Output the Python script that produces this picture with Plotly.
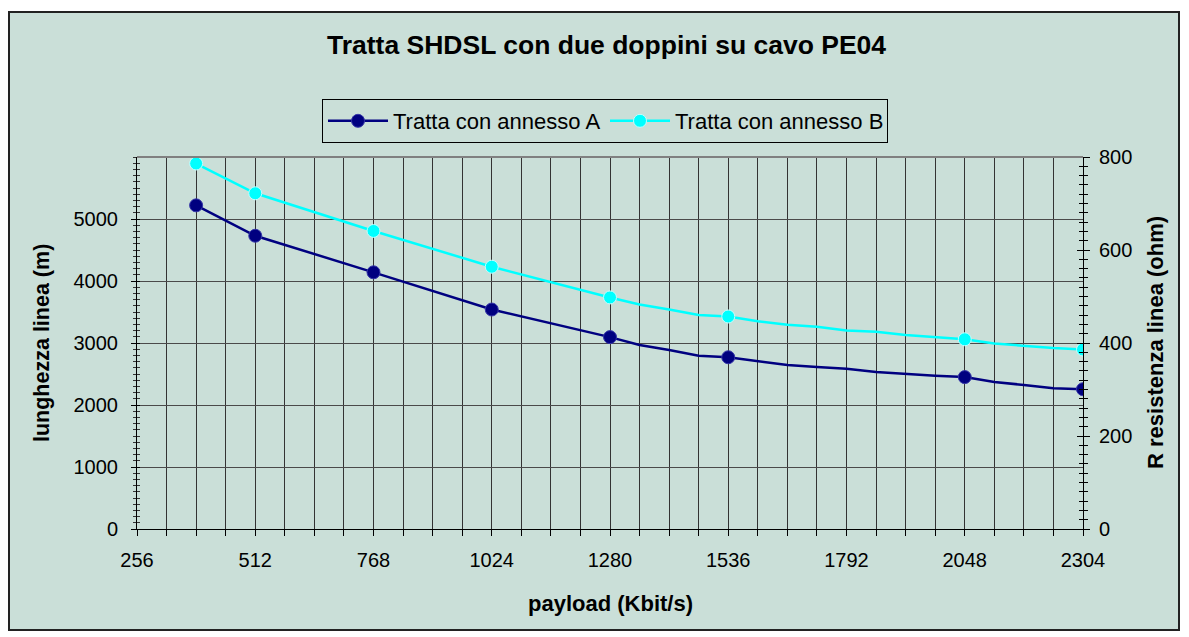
import plotly.graph_objects as go

# ---- data ----
x_markers = [384, 512, 768, 1024, 1280, 1536, 2048, 2304]
len_A_markers = [5220, 4730, 4140, 3540, 3095, 2770, 2450, 2255]
res_B_markers = [786, 722, 641, 564, 498, 457, 408, 386]

x_line = [384, 512, 768, 1024, 1280, 1344, 1408, 1472, 1536, 1600, 1664, 1728,
          1792, 1856, 1920, 1984, 2048, 2112, 2176, 2240, 2304]
len_A_line = [5220, 4730, 4140, 3540, 3095, 2968, 2887, 2795, 2770, 2710, 2645, 2613,
              2585, 2532, 2500, 2473, 2450, 2371, 2323, 2272, 2255]
res_B_line = [786, 722, 641, 564, 498, 483, 472, 460, 457, 447, 439, 435,
              427, 424, 417, 412, 408, 399, 394, 389, 386]

x_ticks = [256, 512, 768, 1024, 1280, 1536, 1792, 2048, 2304]
y_left_ticks = [0, 1000, 2000, 3000, 4000, 5000]
y_right_ticks = [0, 200, 400, 600, 800]

title_text = "Tratta SHDSL con due doppini su cavo PE04"
name_A = "Tratta con annesso A"
name_B = "Tratta con annesso B"

NAVY = "#000080"
CYAN = "#00FFFF"
BG = "#cadfd8"
GRID = "#333333"
FONT = "Liberation Sans, Arial, sans-serif"

W, H = 1189, 637
L, R, T, B = 137, 1083, 157, 529  # plot area in pixels


def px(xp):
    return (xp - L) / (R - L)


def py(yp):
    return (B - yp) / (B - T)


fig = go.Figure()

# lines
fig.add_trace(go.Scatter(x=x_line, y=len_A_line, mode="lines",
                         line=dict(color=NAVY, width=2.5), showlegend=False,
                         hoverinfo="skip"))
fig.add_trace(go.Scatter(x=x_line, y=res_B_line, mode="lines", yaxis="y2",
                         line=dict(color=CYAN, width=2.5), showlegend=False,
                         hoverinfo="skip"))
# markers
fig.add_trace(go.Scatter(x=x_markers, y=len_A_markers, mode="markers", showlegend=False,
                         marker=dict(size=13, color=NAVY, line=dict(color="#3535a8", width=1))))
fig.add_trace(go.Scatter(x=x_markers, y=res_B_markers, mode="markers", showlegend=False,
                         yaxis="y2",
                         marker=dict(size=13, color=CYAN, line=dict(color="#c0ffff", width=1))))
# legend entries
fig.add_trace(go.Scatter(x=[None], y=[None], mode="lines+markers", name=name_A,
                         line=dict(color=NAVY, width=2.5),
                         marker=dict(size=13, color=NAVY, line=dict(color="#3535a8", width=1))))
fig.add_trace(go.Scatter(x=[None], y=[None], mode="lines+markers", name=name_B,
                         line=dict(color=CYAN, width=2.5),
                         marker=dict(size=13, color=CYAN, line=dict(color="#c0ffff", width=1))))

fig.update_layout(
    width=W, height=H,
    margin=dict(l=L, r=W - R, t=T, b=H - B, pad=0),
    paper_bgcolor="white",
    plot_bgcolor="rgba(0,0,0,0)",
    font=dict(family=FONT, size=20, color="black"),
    showlegend=True,
    legend=dict(orientation="h", x=px(322), y=py(99), xanchor="left", yanchor="top",
                bgcolor=BG, bordercolor="black", borderwidth=1,
                font=dict(size=22), entrywidth=207, itemwidth=60),
    xaxis=dict(range=[256, 2304], tickvals=x_ticks, ticks="outside", ticklen=6,
               tickcolor="black", showline=True, linecolor="black", linewidth=1,
               showgrid=True, gridcolor=GRID, gridwidth=1, zeroline=False,
               minor=dict(dtick=64, tick0=256, showgrid=True, gridcolor=GRID, gridwidth=1,
                          ticks="outside", ticklen=6, tickcolor="black"),
               tickfont=dict(size=20), ticklabelstandoff=7),
    yaxis=dict(range=[0, 6000], tickvals=y_left_ticks, ticks="outside", ticklen=5,
               tickcolor="black", showline=True, linecolor="black", linewidth=1,
               showgrid=True, gridcolor="#4a4a4a", gridwidth=1, zeroline=False,
               minor=dict(dtick=100, ticks="outside", ticklen=3, tickcolor="#333"),
               tickfont=dict(size=20), ticklabelstandoff=9),
    yaxis3=dict(range=[0, 6000], overlaying="y", side="left", tickvals=y_left_ticks,
                showticklabels=False, ticks="inside", ticklen=3, tickcolor="black",
                showgrid=False, zeroline=False, showline=False,
                minor=dict(dtick=100, ticks="inside", ticklen=3, tickcolor="#333")),
    yaxis2=dict(range=[0, 800], tickvals=y_right_ticks, overlaying="y", side="right",
                ticks="outside", ticklen=6, tickcolor="black", showline=True,
                linecolor="black", linewidth=1, showgrid=False, zeroline=False,
                minor=dict(dtick=20, ticks="outside", ticklen=4, tickcolor="black"),
                tickfont=dict(size=20), ticklabelstandoff=5),
    yaxis4=dict(range=[0, 800], overlaying="y", side="right", tickvals=y_right_ticks,
                showticklabels=False, ticks="inside", ticklen=6, tickcolor="black",
                showgrid=False, zeroline=False, showline=False,
                minor=dict(dtick=20, ticks="inside", ticklen=4, tickcolor="black")),
    shapes=[
        dict(type="rect", xref="paper", yref="paper", layer="below",
             x0=px(9), x1=px(1179), y0=py(630), y1=py(12),
             fillcolor=BG, line=dict(color="#222222", width=2)),
        dict(type="line", xref="paper", yref="paper", x0=0, x1=1, y0=1, y1=1,
             line=dict(color="#808080", width=2)),
    ],
    annotations=[
        dict(text="<b>" + title_text + "</b>", xref="paper", yref="paper",
             x=px(606), y=py(45), showarrow=False, font=dict(size=26.5),
             xanchor="center", yanchor="middle"),
        dict(text="<b>payload (Kbit/s)</b>", xref="paper", yref="paper",
             x=px(610), y=py(603), showarrow=False, font=dict(size=22),
             xanchor="center", yanchor="middle"),
        dict(text="<b>lunghezza linea (m)</b>", xref="paper", yref="paper",
             x=px(42), y=py(343), showarrow=False, font=dict(size=21.5), textangle=-90,
             xanchor="center", yanchor="middle"),
        dict(text="<b>R resistenza linea (ohm)</b>", xref="paper", yref="paper",
             x=px(1155), y=py(343), showarrow=False, font=dict(size=22), textangle=-90,
             xanchor="center", yanchor="middle"),
    ],
)

# dummy traces so the overlay tick axes render
fig.add_trace(go.Scatter(x=[None], y=[None], yaxis="y3", showlegend=False, hoverinfo="skip"))
fig.add_trace(go.Scatter(x=[None], y=[None], yaxis="y4", showlegend=False, hoverinfo="skip"))

fig.write_html("out.html", config={"displayModeBar": False},
               post_script="document.body.style.margin='0';")
